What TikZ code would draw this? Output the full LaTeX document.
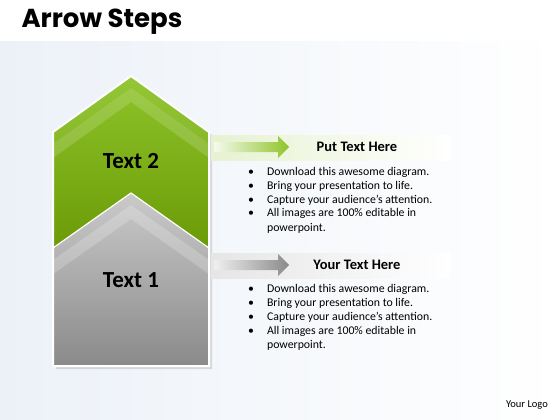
\documentclass[tikz,border=0pt]{standalone}
\usepackage{fontspec}
\setmainfont{Carlito}
\newfontfamily\titlefont{Poppins}

\definecolor{leafgreen}{HTML}{8EC42A}
\definecolor{darkleaf}{HTML}{6A9A06}
\definecolor{lightgrey}{HTML}{CACACA}
\definecolor{darkgrey}{HTML}{8A8A8A}
\definecolor{paper}{HTML}{ECF1F8}

\begin{document}
\begin{tikzpicture}[x=1pt,y=-1pt,
    steplabel/.style={font=\fontsize{23}{27}\selectfont\bfseries},
    heading/.style={font=\fontsize{14.5}{17}\selectfont\bfseries},
    bullets/.style={anchor=north west,inner sep=0pt,font=\fontsize{11.8}{14}\selectfont}]
    \useasboundingbox (0,0) rectangle (560,420);
    \fill[white] (0,0) rectangle (560,420);
    \shade[left color=paper, right color=white] (0,42) rectangle (560,420);

    \node[anchor=west,font=\titlefont\fontsize{26}{30}\selectfont\bfseries] (title) at (18,22) {Arrow Steps};

    % the stacked block
    \fill[black,opacity=0.12] (56,135) -- (134,79) -- (212,135) -- (212,369) -- (56,369) -- cycle;
    \shade[top color=leafgreen, bottom color=darkleaf] (53,132) -- (131,76) -- (209,132) -- (209,252) -- (53,252) -- cycle;
    \fill[white,opacity=0.06] (53,132) -- (131,76) -- (209,132) -- (209,144) -- (131,88) -- (53,144) -- cycle;
    \fill[white,opacity=0.16] (53,144) -- (131,88) -- (209,144) -- (209,158) -- (131,102) -- (53,158) -- cycle;
    \shade[top color=lightgrey, bottom color=darkgrey] (53,248) -- (131,193) -- (209,248) -- (209,366) -- (53,366) -- cycle;
    \fill[white,opacity=0.2] (53,260) -- (131,205) -- (209,260) -- (209,274) -- (131,219) -- (53,274) -- cycle;
    \draw[white,line width=1.2pt] (53,248) -- (131,193) -- (209,248);
    \draw[white,line width=2pt] (53,132) -- (131,76) -- (209,132) -- (209,366) -- (53,366) -- cycle;

    \node[steplabel] (t2) at (131,161) {Text 2};
    \node[steplabel] (t1) at (131,280) {Text 1};

    % headings with arrows
    \shade[left color=leafgreen!22, right color=white] (211,135) rectangle (450,160);
    \shade[left color=leafgreen!8, right color=leafgreen] (214,142) -- (278,142) -- (278,136) -- (289,147) -- (278,158) -- (278,152) -- (214,152) -- cycle;
    \node[heading] (h2) at (357,147) {Put Text Here};

    \shade[left color=black!10, right color=white] (211,253) rectangle (450,278);
    \shade[left color=black!6, right color=darkgrey] (214,260) -- (278,260) -- (278,254) -- (289,265) -- (278,276) -- (278,270) -- (214,270) -- cycle;
    \node[heading] (h1) at (357,265) {Your Text Here};

    \node[bullets] (b2) at (248,165) {\begin{tabular}{@{}l@{\hspace{13pt}}l@{}}
        \textbullet & Download this awesome diagram.\\
        \textbullet & Bring your presentation to life.\\
        \textbullet & Capture your audience’s attention.\\
        \textbullet & All images are 100\% editable in\\
        & powerpoint.
    \end{tabular}};
    \node[bullets] (b1) at (248,282) {\begin{tabular}{@{}l@{\hspace{13pt}}l@{}}
        \textbullet & Download this awesome diagram.\\
        \textbullet & Bring your presentation to life.\\
        \textbullet & Capture your audience’s attention.\\
        \textbullet & All images are 100\% editable in\\
        & powerpoint.
    \end{tabular}};

    \node[font=\fontsize{10.5}{12}\selectfont] (logo) at (527,405) {Your Logo};
\end{tikzpicture}
\end{document}
